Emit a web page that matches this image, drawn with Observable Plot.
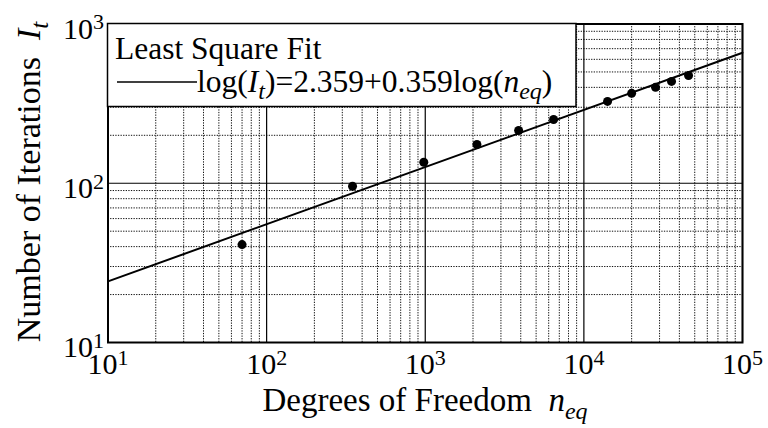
<!DOCTYPE html>
<html><head><meta charset="utf-8">
<script src="https://cdn.jsdelivr.net/npm/d3@7"></script>
<script src="https://cdn.jsdelivr.net/npm/@observablehq/plot@0.6"></script>
<style>body{margin:0;background:#fff;}</style>
</head><body><div id="chart"></div>
<script>
// Data
const dof = [70, 348, 979, 2117, 3879, 6442, 14100, 20000, 28300, 35700, 45700];
const iterations = [41.2, 95.7, 135.5, 175, 214.5, 251.5, 326.5, 367, 400, 436, 475];
// Least-square fit line end points (ln(I)=2.359+0.359 ln(n))
const fitDof = [10, 100000];
const fitIterations = [24.2, 660];
// Axis decades and their tick labels
const xDecades = [10, 100, 1000, 10000, 100000];
const xTickExp = ["1", "2", "3", "4", "5"];
const yDecades = [10, 100, 1000];
const yTickExp = ["1", "2", "3"];
const minorSteps = [2, 3, 4, 5, 6, 7, 8, 9];

const points = dof.map((d, i) => ({n: d, it: iterations[i]}));
const fit = fitDof.map((d, i) => ({n: d, it: fitIterations[i]}));
const xMinor = xDecades.slice(0, -1).flatMap(d => minorSteps.map(k => d * k));
const yMinor = yDecades.slice(0, -1).flatMap(d => minorSteps.map(k => d * k));

const serif = "'Liberation Serif', 'Times New Roman', serif";
const minorStyle = {stroke: "#111", strokeWidth: 1, strokeDasharray: "1.3,1.3"};
const majorStyle = {stroke: "#000", strokeWidth: 1.2};

const svg = Plot.plot({
  width: 768, height: 428,
  marginLeft: 107.5, marginRight: 26, marginTop: 23.5, marginBottom: 86,
  x: {type: "log", domain: [10, 100000]},
  y: {type: "log", domain: [10, 1000]},
  style: {fontFamily: serif, color: "#000", background: "#fff", overflow: "visible"},
  marks: [
    Plot.ruleX(xMinor, minorStyle),
    Plot.ruleY(yMinor, minorStyle),
    Plot.ruleX(xDecades, majorStyle),
    Plot.ruleY(yDecades, majorStyle),
    Plot.line(fit, {x: "n", y: "it", stroke: "#000", strokeWidth: 2}),
    Plot.dot(points, {x: "n", y: "it", r: 4.5, fill: "#000", stroke: "none"}),
    Plot.frame({stroke: "#000", strokeWidth: 2}),
    Plot.axisX({ticks: xDecades, tickFormat: d => "10^" + xTickExp[xDecades.indexOf(d)],
      tickSize: 0, tickPadding: 10, fontSize: 30, label: null}),
    Plot.axisY({ticks: yDecades, tickFormat: d => "10^" + yTickExp[yDecades.indexOf(d)],
      tickSize: 0, tickPadding: 4, dy: 5, fontSize: 30, label: null})
  ]
});

const s = d3.select(svg);
// superscript exponents
s.selectAll('g[aria-label="x-axis tick label"] text, g[aria-label="y-axis tick label"] text').each(function () {
  const [b, e] = this.textContent.split("^");
  const t = d3.select(this);
  t.text(null);
  t.append("tspan").attr("font-size", "30px").text(b);
  t.append("tspan").attr("dy", "-0.42em").attr("font-size", "22px").text(e);
});

// Axis titles
const xt = s.append("text").attr("x", 425).attr("y", 411).attr("text-anchor", "middle")
  .attr("font-family", serif).attr("font-size", 33).attr("fill", "#000");
xt.append("tspan").text("Degrees of Freedom\u00a0\u00a0");
xt.append("tspan").attr("font-style", "italic").text("n");
xt.append("tspan").attr("font-style", "italic").attr("font-size", 24).attr("dy", 8).text("eq");

const yt = s.append("text").attr("transform", "translate(40,182) rotate(-90)").attr("text-anchor", "middle")
  .attr("font-family", serif).attr("font-size", 34).attr("fill", "#000");
yt.append("tspan").text("Number of Iterations\u00a0\u00a0");
yt.append("tspan").attr("font-style", "italic").text("I");
yt.append("tspan").attr("font-style", "italic").attr("font-size", 25).attr("dy", 8).text("t");

// Legend box
const lg = s.append("g").attr("text-anchor", "start");
lg.append("rect").attr("x", 107.5).attr("y", 23.5).attr("width", 468.5).attr("height", 83)
  .attr("fill", "#fff").attr("stroke", "#000").attr("stroke-width", 1.5);
lg.append("text").attr("x", 115).attr("y", 59).attr("text-anchor", "start").attr("font-family", serif).attr("font-size", 31.5)
  .attr("fill", "#000").text("Least Square Fit");
lg.append("line").attr("x1", 117).attr("x2", 197).attr("y1", 82).attr("y2", 82)
  .attr("stroke", "#000").attr("stroke-width", 1.5);
const lt = lg.append("text").attr("x", 197).attr("y", 92).attr("text-anchor", "start").attr("font-family", serif).attr("font-size", 31.5).attr("fill", "#000");
lt.append("tspan").text("log(");
lt.append("tspan").attr("font-style", "italic").text("I");
lt.append("tspan").attr("font-style", "italic").attr("font-size", 24).attr("dy", 7).text("t");
lt.append("tspan").attr("dy", -7).text(")=2.359+0.359log(");
lt.append("tspan").attr("font-style", "italic").text("n");
lt.append("tspan").attr("font-style", "italic").attr("font-size", 24).attr("dy", 7).text("eq");
lt.append("tspan").attr("dy", -7).text(")");

document.getElementById("chart").appendChild(svg);
</script>
</body></html>
